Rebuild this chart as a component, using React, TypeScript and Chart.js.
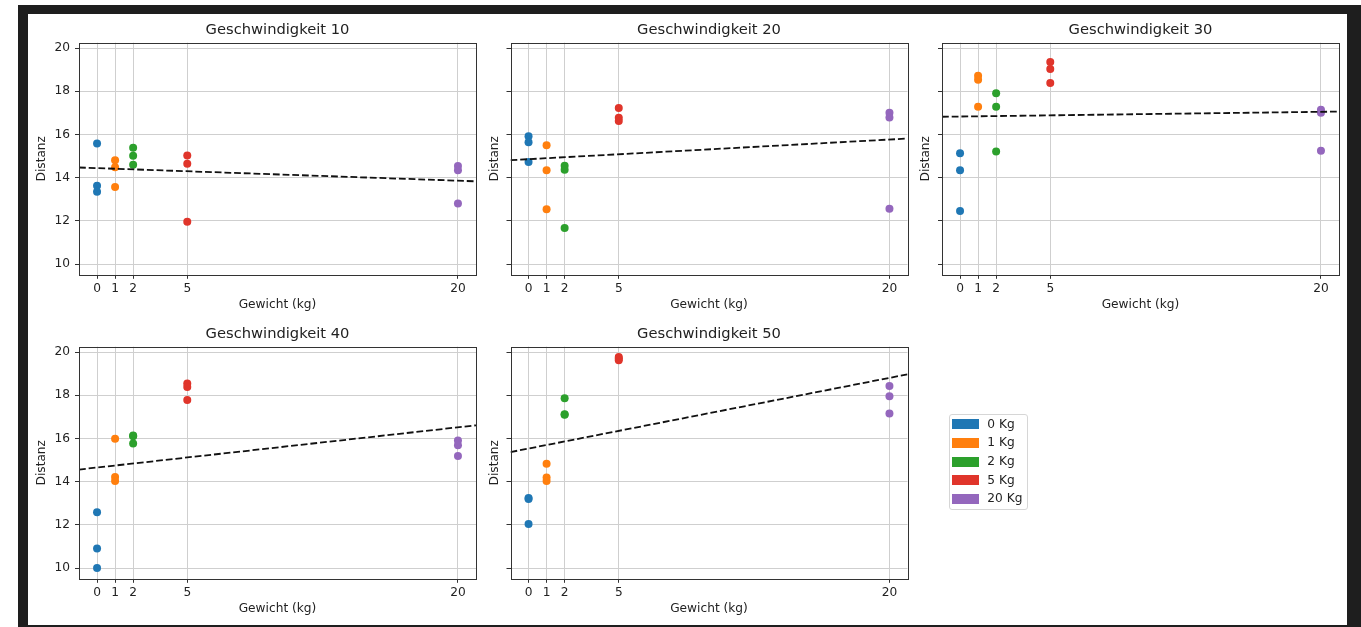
import { useEffect, useRef } from "react";
import { Chart, registerables } from "chart.js";

Chart.register(...registerables);

// ---------- data ----------
const WEIGHTS = [0, 1, 2, 5, 20];
const WEIGHT_LABELS = ["0 Kg", "1 Kg", "2 Kg", "5 Kg", "20 Kg"];
const COLORS = ["#1f77b4", "#ff7f0e", "#2ca02c", "#e0352b", "#9467bd"];
const SPEED_TITLES = [
  "Geschwindigkeit 10",
  "Geschwindigkeit 20",
  "Geschwindigkeit 30",
  "Geschwindigkeit 40",
  "Geschwindigkeit 50",
];
const X_TICKS = [0, 1, 2, 5, 20];
const Y_TICKS = [10, 12, 14, 16, 18, 20];
const X_LIMITS = [-1, 21];
const Y_LIMITS = [9.5, 20.25];
const X_LABEL = "Gewicht (kg)";
const Y_LABEL = "Distanz";

// distance values per weight group (rows follow WEIGHTS)
const DIST_V10 = [
  [15.58, 13.62, 13.35],
  [14.81, 14.48, 13.57],
  [15.38, 15.01, 14.6],
  [15.02, 14.64, 11.96],
  [14.54, 14.34, 12.8],
];
const DIST_V20 = [
  [15.92, 15.64, 14.73],
  [15.5, 14.34, 12.54],
  [14.55, 14.36, 11.67],
  [17.23, 16.77, 16.62],
  [17.01, 16.78, 12.56],
];
const DIST_V30 = [
  [15.13, 14.34, 12.46],
  [18.72, 18.53, 17.28],
  [17.91, 17.28, 15.21],
  [19.36, 19.03, 18.38],
  [17.14, 17.01, 15.25],
];
const DIST_V40 = [
  [12.58, 10.9, 10.0],
  [15.99, 14.21, 14.03],
  [16.14, 16.1, 15.77],
  [18.54, 18.38, 17.78],
  [15.91, 15.68, 15.19],
];
const DIST_V50 = [
  [13.24, 13.2, 12.04],
  [14.83, 14.19, 14.03],
  [17.86, 17.12, 17.1],
  [19.77, 19.62, 19.7],
  [18.43, 17.95, 17.16],
];
// regression line values at X_LIMITS
const TREND_V10 = [14.47, 13.83];
const TREND_V20 = [14.81, 15.81];
const TREND_V30 = [16.82, 17.06];
const TREND_V40 = [14.56, 16.61];
const TREND_V50 = [15.37, 18.97];

const ALL_DIST = [DIST_V10, DIST_V20, DIST_V30, DIST_V40, DIST_V50];
const ALL_TREND = [TREND_V10, TREND_V20, TREND_V30, TREND_V40, TREND_V50];

// ---------- layout / style ----------
const FONT = "'DejaVu Sans', Verdana, sans-serif";
const TXT = "#222";
const GRID = "#cfcfcf";
const SPINE = "#333";
const CW = 1318;
const CH = 610;
const COL_L = [51, 482.5, 914];
const AX_W = 397;
const ROW_T = [28.7, 332.7];
const AX_H = 232.1;
const TITLE_SIZE = 14.7;
const LABEL_SIZE = 12.2;
const TITLE_GAP = 4.2;
const TITLE_H = TITLE_SIZE * 1.2 + TITLE_GAP;
const XAX_H = 30.5 + (LABEL_SIZE * 1.2) / 2;

const boxPlugin = {
  id: "axbox",
  afterDraw(chart: any) {
    const { ctx, chartArea } = chart;
    const l = Math.round(chartArea.left) + 0.5;
    const t = Math.round(chartArea.top) + 0.5;
    const r = Math.round(chartArea.right) + 0.5;
    const b = Math.round(chartArea.bottom) + 0.5;
    ctx.save();
    ctx.strokeStyle = SPINE;
    ctx.lineWidth = 1;
    ctx.strokeRect(l, t, r - l, b - t);
    ctx.restore();
  },
};

function makeConfig(i: number): any {
  const col = i % 3;
  const row = Math.floor(i / 3);
  const L = COL_L[col];
  const R = L + AX_W;
  const T = ROW_T[row];
  const B = T + AX_H;
  const showY = col === 0;
  const wy = showY ? 37 + (LABEL_SIZE * 1.2) / 2 : 16 + (LABEL_SIZE * 1.2) / 2;

  const datasets: any[] = WEIGHTS.map((w, g) => ({
    type: "scatter",
    label: WEIGHT_LABELS[g],
    data: ALL_DIST[i][g].map((d) => ({ x: w, y: d })),
    backgroundColor: COLORS[g],
    borderColor: COLORS[g],
    borderWidth: 0,
    pointRadius: 4,
    pointHoverRadius: 4,
    order: 1,
  }));
  datasets.push({
    type: "line",
    label: "trend",
    data: X_LIMITS.map((x, k) => ({ x, y: ALL_TREND[i][k] })),
    borderColor: "#111",
    borderWidth: 1.8,
    borderDash: [6.8, 2.9],
    pointRadius: 0,
    fill: false,
    order: 0,
  });

  const tickFont = { family: FONT, size: LABEL_SIZE };
  return {
    type: "scatter",
    data: { datasets },
    plugins: [boxPlugin],
    options: {
      animation: false,
      responsive: false,
      events: [],
      layout: {
        autoPadding: false,
        padding: {
          left: L - wy,
          right: CW - R,
          top: T - TITLE_H,
          bottom: CH - B - XAX_H,
        },
      },
      plugins: {
        legend: { display: false },
        tooltip: { enabled: false },
        title: {
          display: true,
          text: SPEED_TITLES[i],
          fullSize: false,
          color: TXT,
          font: { family: FONT, size: TITLE_SIZE, weight: "normal", lineHeight: 1.2 },
          padding: { top: 0, bottom: TITLE_GAP },
        },
      },
      scales: {
        x: {
          type: "linear",
          min: X_LIMITS[0],
          max: X_LIMITS[1],
          afterBuildTicks: (s: any) => {
            s.ticks = X_TICKS.map((v) => ({ value: v }));
          },
          afterFit: (s: any) => {
            s.height = XAX_H;
          },
          border: { display: false },
          grid: { color: GRID, lineWidth: 1, tickLength: 4, tickColor: SPINE, tickWidth: 1 },
          ticks: {
            padding: 3,
            color: TXT,
            font: tickFont,
            autoSkip: false,
            maxRotation: 0,
            callback: (v: any) => String(v),
          },
          title: {
            display: true,
            text: X_LABEL,
            color: TXT,
            font: { family: FONT, size: LABEL_SIZE, lineHeight: 1.2 },
            padding: 0,
          },
        },
        y: {
          type: "linear",
          min: Y_LIMITS[0],
          max: Y_LIMITS[1],
          afterBuildTicks: (s: any) => {
            s.ticks = Y_TICKS.map((v) => ({ value: v }));
          },
          afterFit: (s: any) => {
            s.width = wy;
          },
          border: { display: false },
          grid: { color: GRID, lineWidth: 1, tickLength: 4, tickColor: SPINE, tickWidth: 1 },
          ticks: {
            display: showY,
            padding: 5,
            color: TXT,
            font: tickFont,
            callback: (v: any) => String(v),
          },
          title: {
            display: true,
            text: Y_LABEL,
            color: TXT,
            font: { family: FONT, size: LABEL_SIZE, lineHeight: 1.2 },
            padding: 0,
          },
        },
      },
    },
  };
}

const LEG_LEFT = 948.7;
const LEG_TOP = 413.7;
const LEG_ROW0 = 424.3;
const LEG_STEP = 18.6;

export default function App() {
  const refs = useRef<(HTMLCanvasElement | null)[]>([]);

  useEffect(() => {
    const charts = SPEED_TITLES.map((_, i) => {
      const c = refs.current[i]!;
      return new Chart(c, makeConfig(i));
    });
    return () => charts.forEach((ch) => ch.destroy());
  }, []);

  return (
    <div
      style={{
        position: "absolute",
        left: 0,
        top: 0,
        width: 1361,
        height: 627,
        background: "#ffffff",
        overflow: "hidden",
        fontFamily: FONT,
      }}
    >
      <div
        style={{
          position: "absolute",
          left: 18,
          top: 5,
          width: 1343,
          height: 622,
          background: "#1e1e1e",
        }}
      />
      <div
        style={{
          position: "absolute",
          left: 28,
          top: 14,
          width: 1318.7,
          height: 610.5,
          background: "#ffffff",
        }}
      />
      {SPEED_TITLES.map((t, i) => (
        <canvas
          key={t}
          ref={(el) => {
            refs.current[i] = el;
          }}
          width={CW}
          height={CH}
          style={{ position: "absolute", left: 28, top: 14, width: CW, height: CH }}
        />
      ))}
      <div
        style={{
          position: "absolute",
          left: LEG_LEFT,
          top: LEG_TOP,
          width: 79.6,
          height: 96.3,
          boxSizing: "border-box",
          border: "1px solid #d6d6d6",
          borderRadius: 3,
          background: "rgba(255,255,255,0.8)",
        }}
      />
      {WEIGHT_LABELS.map((lab, k) => (
        <div key={lab}>
          <div
            style={{
              position: "absolute",
              left: 951.7,
              top: LEG_ROW0 + LEG_STEP * k - 5,
              width: 27,
              height: 10,
              background: COLORS[k],
            }}
          />
          <div
            style={{
              position: "absolute",
              left: 987.3,
              top: LEG_ROW0 + LEG_STEP * k - 7.5,
              fontSize: LABEL_SIZE,
              lineHeight: "15px",
              color: TXT,
              whiteSpace: "nowrap",
            }}
          >
            {lab}
          </div>
        </div>
      ))}
    </div>
  );
}
